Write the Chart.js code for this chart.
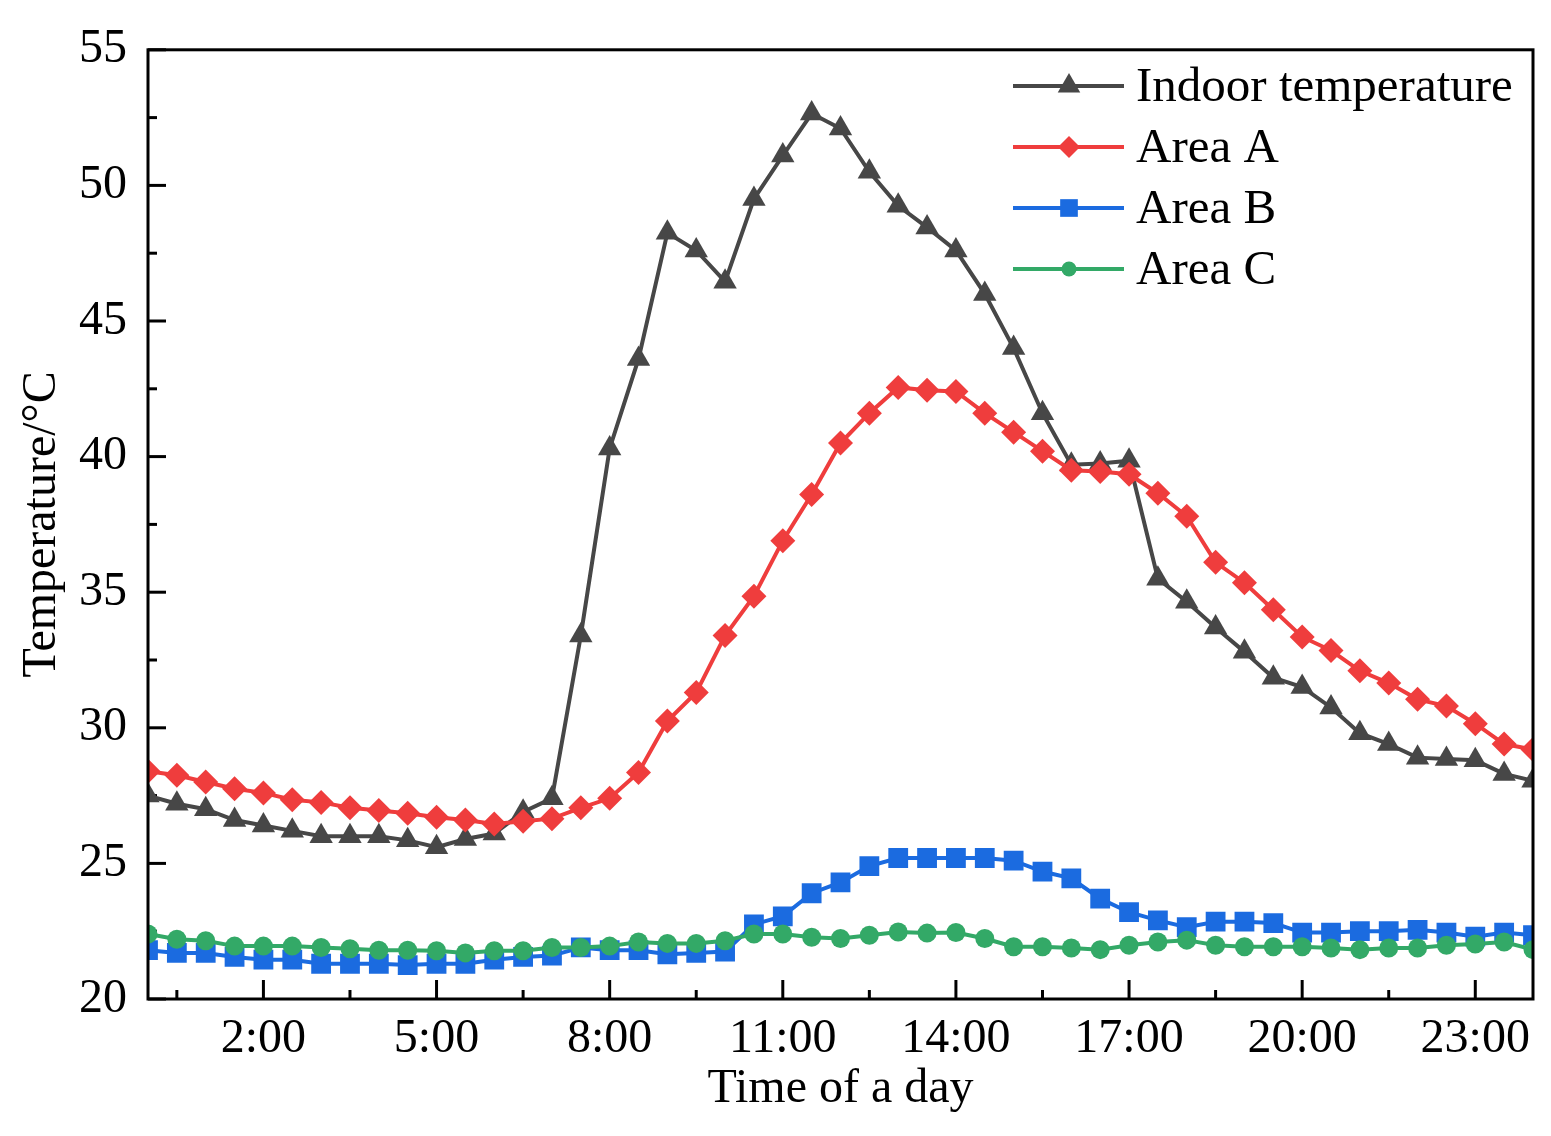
<!DOCTYPE html>
<html>
<head>
<meta charset="utf-8">
<script src="https://cdn.jsdelivr.net/npm/chart.js@4.4.1/dist/chart.umd.min.js"></script>
<style>
  html, body { margin: 0; padding: 0; background: #fff; }
  #wrap { width: 1551px; height: 1136px; position: relative; }
</style>
</head>
<body>
<div id="wrap"><canvas id="c"></canvas></div>
<script>
// ---- data ----
const hours = [0, 0.5, 1, 1.5, 2, 2.5, 3, 3.5, 4, 4.5, 5, 5.5, 6, 6.5, 7, 7.5, 8, 8.5, 9, 9.5, 10, 10.5, 11, 11.5, 12,
  12.5, 13, 13.5, 14, 14.5, 15, 15.5, 16, 16.5, 17, 17.5, 18, 18.5, 19, 19.5, 20, 20.5, 21, 21.5, 22, 22.5, 23, 23.5, 24];
const indoorTemp = [27.5, 27.2, 27.0, 26.6, 26.4, 26.2, 26.0, 26.0, 26.0, 25.85, 25.6, 25.9, 26.1, 26.9, 27.4,
  33.4, 40.3, 43.6, 48.25, 47.6, 46.45, 49.5, 51.1, 52.65, 52.1,
  50.5, 49.25, 48.45, 47.6, 46.0, 44.0, 41.6, 39.7, 39.75, 39.85,
  35.5, 34.65, 33.7, 32.8, 31.85, 31.5, 30.75, 29.8, 29.4, 28.9, 28.85, 28.8, 28.3, 28.05];
const areaA = [28.4, 28.25, 28.0, 27.75, 27.6, 27.35, 27.25, 27.05, 26.95, 26.85, 26.7, 26.6, 26.45, 26.55, 26.65,
  27.05, 27.4, 28.35, 30.25, 31.3, 33.4, 34.85, 36.9, 38.6, 40.5,
  41.6, 42.55, 42.45, 42.4, 41.6, 40.9, 40.2, 39.5, 39.45, 39.35,
  38.65, 37.8, 36.1, 35.35, 34.35, 33.35, 32.85, 32.1, 31.65, 31.05, 30.8, 30.15, 29.4, 29.2];
const areaB = [21.8, 21.7, 21.7, 21.55, 21.45, 21.45, 21.3, 21.3, 21.3, 21.25, 21.3, 21.3, 21.45, 21.55, 21.6,
  21.9, 21.8, 21.8, 21.65, 21.7, 21.75, 22.75, 23.05, 23.9, 24.3,
  24.9, 25.2, 25.2, 25.2, 25.2, 25.1, 24.7, 24.45, 23.7, 23.2,
  22.9, 22.65, 22.85, 22.85, 22.8, 22.45, 22.45, 22.5, 22.5, 22.55, 22.45, 22.3, 22.45, 22.35];
const areaC = [22.4, 22.2, 22.15, 21.95, 21.95, 21.95, 21.9, 21.85, 21.8, 21.8, 21.78, 21.7, 21.78, 21.78, 21.9,
  21.9, 21.95, 22.1, 22.05, 22.05, 22.15, 22.4, 22.4, 22.28, 22.23,
  22.35, 22.47, 22.43, 22.45, 22.23, 21.93, 21.93, 21.88, 21.82, 21.98,
  22.1, 22.17, 21.98, 21.93, 21.93, 21.93, 21.88, 21.82, 21.88, 21.88, 21.98, 22.03, 22.1, 21.82];
const seriesNames = ['Indoor temperature', 'Area A', 'Area B', 'Area C'];
const xTickValues = [2, 5, 8, 11, 14, 17, 20, 23];
const xTickLabels = ['2:00', '5:00', '8:00', '11:00', '14:00', '17:00', '20:00', '23:00'];
const xMinorValues = [0.5, 3.5, 6.5, 9.5, 12.5, 15.5, 18.5, 21.5];
const yTickValues = [20, 25, 30, 35, 40, 45, 50, 55];
const yMinorValues = [22.5, 27.5, 32.5, 37.5, 42.5, 47.5, 52.5];
const xTitle = 'Time of a day';
const yTitle = 'Temperature/\u00B0C';

// ---- styling ----
const FONT = "'Liberation Serif', 'Times New Roman', serif";
const styles = [
  { color: '#474747', shape: 'triangle', r: 13.5, lr: 13 },
  { color: '#ef3d3d', shape: 'rectRot', r: 12.5, lr: 11 },
  { color: '#1b6be0', shape: 'rect', r: 14, lr: 12.5 },
  { color: '#33a967', shape: 'circle', r: 9.5, lr: 7.5 }
];
const seriesValues = [indoorTemp, areaA, areaB, areaC];
const drawOrder = [3, 2, 1, 0];

function toPoints(vals) { return hours.map((h, i) => ({ x: h, y: vals[i] })); }

const datasets = seriesValues.map((vals, i) => ({
  label: seriesNames[i],
  data: toPoints(vals),
  borderColor: styles[i].color,
  backgroundColor: styles[i].color,
  borderWidth: 4,
  pointStyle: styles[i].shape,
  pointRadius: styles[i].r,
  pointHoverRadius: styles[i].r,
  pointBackgroundColor: styles[i].color,
  pointBorderWidth: 0,
  tension: 0,
  clip: 0,
  order: drawOrder[i]
}));

function drawMarker(ctx, shape, x, y, r) {
  ctx.beginPath();
  if (shape === 'triangle') {
    for (let k = 0; k < 3; k++) {
      const a = k * 2 * Math.PI / 3;
      const px = x + Math.sin(a) * r, py = y - Math.cos(a) * r;
      if (k === 0) ctx.moveTo(px, py); else ctx.lineTo(px, py);
    }
  } else if (shape === 'rectRot') {
    ctx.moveTo(x, y - r); ctx.lineTo(x + r, y); ctx.lineTo(x, y + r); ctx.lineTo(x - r, y);
  } else if (shape === 'rect') {
    const s = Math.SQRT1_2 * r;
    ctx.rect(x - s, y - s, 2 * s, 2 * s);
  } else {
    ctx.arc(x, y, r, 0, Math.PI * 2);
  }
  ctx.closePath();
  ctx.fill();
}

const decor = {
  id: 'decor',
  beforeDatasetsDraw(chart) {
    const { ctx, chartArea: a, scales: { x, y } } = chart;
    ctx.save();
    ctx.strokeStyle = '#000';
    ctx.lineWidth = 3;
    const seg = (x1, y1, x2, y2) => { ctx.beginPath(); ctx.moveTo(x1, y1); ctx.lineTo(x2, y2); ctx.stroke(); };
    xTickValues.forEach(v => { const p = x.getPixelForValue(v); seg(p, a.bottom, p, a.bottom - 19); });
    xMinorValues.forEach(v => { const p = x.getPixelForValue(v); seg(p, a.bottom, p, a.bottom - 9); });
    yTickValues.forEach(v => { const p = y.getPixelForValue(v); seg(a.left, p, a.left + 18, p); });
    yMinorValues.forEach(v => { const p = y.getPixelForValue(v); seg(a.left, p, a.left + 9, p); });
    ctx.restore();
  },
  afterDatasetsDraw(chart) {
    const { ctx, chartArea: a } = chart;
    ctx.save();
    ctx.strokeStyle = '#000';
    ctx.lineWidth = 3;
    ctx.strokeRect(a.left, a.top, a.right - a.left, a.bottom - a.top);
    // legend
    const rowsY = [86, 147, 208, 269];
    const x1 = 1013, x2 = 1124, xm = 1069, xt = 1136;
    ctx.font = '49px ' + FONT;
    ctx.textBaseline = 'middle';
    ctx.textAlign = 'left';
    seriesNames.forEach((name, i) => {
      const yy = rowsY[i];
      ctx.strokeStyle = styles[i].color;
      ctx.fillStyle = styles[i].color;
      ctx.lineWidth = 4;
      ctx.beginPath(); ctx.moveTo(x1, yy); ctx.lineTo(x2, yy); ctx.stroke();
      drawMarker(ctx, styles[i].shape, xm, yy, styles[i].lr);
      ctx.fillStyle = '#000';
      ctx.fillText(name, xt, yy + 2);
    });
    ctx.restore();
  }
};

Chart.defaults.font.family = FONT;
Chart.defaults.font.size = 48;
Chart.defaults.color = '#000';

new Chart(document.getElementById('c'), {
  type: 'line',
  data: { datasets },
  plugins: [decor],
  options: {
    responsive: true,
    maintainAspectRatio: false,
    devicePixelRatio: 1,
    animation: false,
    events: [],
    layout: { padding: { top: 46, right: 18, left: 0, bottom: 0 } },
    plugins: { legend: { display: false }, tooltip: { enabled: false } },
    scales: {
      x: {
        type: 'linear',
        min: 0,
        max: 24,
        afterBuildTicks: (s) => { s.ticks = xTickValues.map(v => ({ value: v })); },
        afterFit: (s) => { s.height = 137; },
        ticks: {
          autoSkip: false,
          maxRotation: 0,
          padding: 12,
          font: { size: 48, family: FONT },
          callback: (v) => { const k = xTickValues.indexOf(v); return k >= 0 ? xTickLabels[k] : ''; }
        },
        grid: { display: false, drawTicks: false, drawOnChartArea: false },
        border: { display: false },
        title: { display: true, text: xTitle, font: { size: 48, family: FONT }, padding: { top: 0, bottom: 18 } }
      },
      y: {
        type: 'linear',
        min: 20,
        max: 55,
        afterBuildTicks: (s) => { s.ticks = yTickValues.map(v => ({ value: v })); },
        afterFit: (s) => { s.width = 148; },
        ticks: { padding: 21, font: { size: 48, family: FONT } },
        grid: { display: false, drawTicks: false, drawOnChartArea: false },
        border: { display: false },
        title: { display: true, text: yTitle, font: { size: 48, family: FONT }, padding: { top: 14, bottom: 0 } }
      }
    }
  }
});
</script>
</body>
</html>
